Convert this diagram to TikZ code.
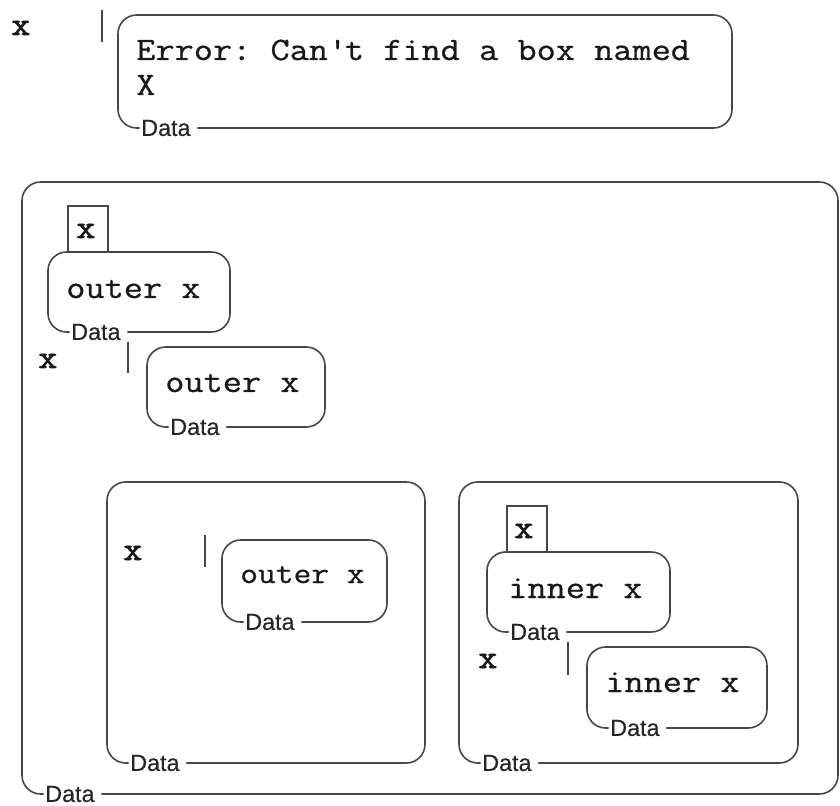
\documentclass[tikz,border=0pt]{standalone}
\usepackage{fontspec}
\newfontfamily\monof[FakeStretch=1.14,FakeBold=0.7]{Latin Modern Mono}
\newfontfamily\monobf[FakeStretch=1.14,FakeBold=2.2]{Latin Modern Mono}
\newfontfamily\sansf[FakeBold=0.4]{Liberation Sans}
\frenchspacing
\tikzset{
  x=0.75pt, y=-0.75pt,
  boxline/.style={draw=black!72, line width=1.2pt, rounded corners=14pt},
  datalbl/.style={anchor=west, inner sep=0pt, font=\sansf\fontsize{17.5}{17.5}\selectfont, text=black!85},
  code/.style={anchor=base west, inner sep=0pt, font=\monof\fontsize{24.5}{29}\selectfont\frenchspacing, text=black!90},
  codesm/.style={code, font=\monof\fontsize{22.7}{27}\selectfont},
  varx/.style={anchor=base west, inner sep=0pt, font=\monobf\fontsize{24.5}{29}\selectfont, text=black!90},
  cursorline/.style={draw=black!72, line width=2.1pt},
  namebox/.style={draw=black!72, line width=1.2pt},
}
% name, left, top, right, bottom
\newcommand{\dbox}[5]{%
  \node[datalbl] (#1d) at (#2+23,#5) {Data};
  \draw[boxline] ([xshift=-1pt]#1d.west) -- (#2,#5) -- (#2,#3) -- (#4,#3) -- (#4,#5) -- ([xshift=5pt]#1d.east);
}
\newcommand{\cursorbar}[4]{% name, x, top, bottom
  \coordinate (#1t) at (#2,#3);
  \coordinate (#1b) at (#2,#4);
  \draw[cursorline] (#1t) -- (#1b);
}
\begin{document}
\begin{tikzpicture}
\useasboundingbox[fill=white] (0,0) rectangle (840,806);

% top row
\node[varx] (x0) at (11,35) {x};
\cursorbar{c0}{102}{10}{42}
\dbox{b1}{118}{15}{732}{128}
\node[code] (err1) at (136,60) {Error: Can\textquotesingle t find a box named};
\node[code] (err2) at (136,95) {X};

% big box
\dbox{big}{22}{182}{838}{794}

% x name box + outer x
\draw[namebox] (68,252) -- (68,206) -- (108,206) -- (108,252);
\node[varx] (nx1) at (76,238) {x};
\dbox{b2}{48}{252}{230}{332}
\node[code] (t2) at (66,298) {outer x};

\node[varx] (x1) at (38,368) {x};
\cursorbar{c1}{128}{342}{373}
\dbox{b3}{147}{347}{325}{427}
\node[code] (t3) at (165,392) {outer x};

% box A
\dbox{bA}{107}{482}{425}{763}
\node[varx] (x2) at (123,560) {x};
\cursorbar{c2}{205}{535}{567}
\dbox{b4}{222}{540}{387}{622}
\node[codesm] (t4) at (240,583) {outer x};

% box B
\dbox{bB}{459}{482}{798}{763}
\draw[namebox] (507,552) -- (507,506) -- (547,506) -- (547,552);
\node[varx] (nx2) at (514,538) {x};
\dbox{b5}{487}{552}{670}{632}
\node[code] (t5) at (508,598) {inner x};
\node[varx] (x3) at (478,668) {x};
\cursorbar{c3}{568}{642}{675}
\dbox{b6}{587}{647}{767}{728}
\node[code] (t6) at (605,692) {inner x};
\end{tikzpicture}
\end{document}
